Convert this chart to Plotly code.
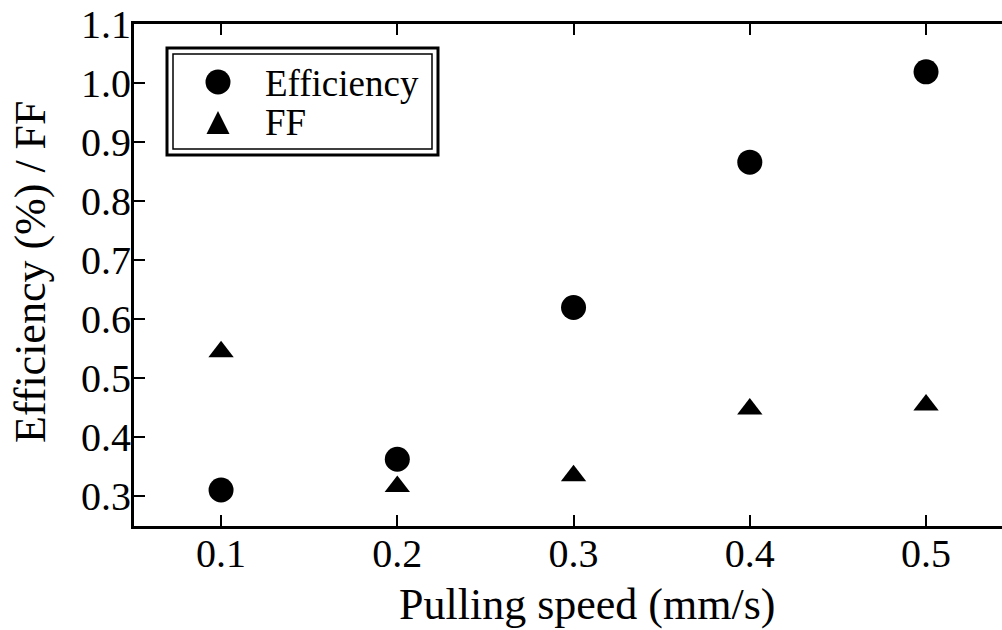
import plotly.graph_objects as go

# Pulling speed (mm/s)
speed = [0.1, 0.2, 0.3, 0.4, 0.5]
# Measured cell efficiency (%) and fill factor
efficiency = [0.311, 0.363, 0.620, 0.866, 1.019]
fill_factor = [0.545, 0.317, 0.335, 0.448, 0.455]

x_ticks = [0.1, 0.2, 0.3, 0.4, 0.5]
y_ticks = [0.3, 0.4, 0.5, 0.6, 0.7, 0.8, 0.9, 1.0, 1.1]

SERIF = "Liberation Serif, Times New Roman, serif"

# plot-area geometry in pixels, used to place the legend box and titles
W, H = 1002, 630
L, T, B = 134, 24, 104
PW, PH = W - L, H - T - B


def px(x):
    return (x - L) / PW


def py(y):
    return (H - B - y) / PH


fig = go.Figure()
fig.add_trace(go.Scatter(
    x=speed, y=efficiency, mode="markers", name="Efficiency",
    marker=dict(symbol="circle", size=25, color="black"),
))
fig.add_trace(go.Scatter(
    x=speed, y=fill_factor, mode="markers", name="FF",
    marker=dict(symbol="triangle-up", size=22, color="black"),
))
# invisible trace to carry the top axis with inward ticks
fig.add_trace(go.Scatter(
    x=speed, y=efficiency, xaxis="x2", mode="markers",
    marker=dict(opacity=0), showlegend=False, hoverinfo="skip",
))

axis_common = dict(
    showgrid=False, zeroline=False, showline=True,
    linecolor="black", linewidth=3,
    ticks="inside", ticklen=11, tickwidth=2, tickcolor="black",
)

# legend: double frame, symbols and labels
legend_shapes = [
    dict(type="rect", xref="paper", yref="paper",
         x0=px(167), x1=px(438), y0=py(155), y1=py(48),
         line=dict(color="black", width=3), fillcolor="white", layer="below"),
    dict(type="rect", xref="paper", yref="paper",
         x0=px(173), x1=px(432), y0=py(149), y1=py(54),
         line=dict(color="black", width=1.5)),
    dict(type="circle", xref="paper", yref="paper",
         x0=px(205.5), x1=px(230.5), y0=py(94.5), y1=py(69.5),
         fillcolor="black", line=dict(color="black", width=0)),
    dict(type="path", xref="paper", yref="paper",
         path=f"M {px(206.5)} {py(134)} L {px(229.5)} {py(134)} "
              f"L {px(218)} {py(111)} Z",
         fillcolor="black", line=dict(color="black", width=0)),
]

text_common = dict(xref="paper", yref="paper", showarrow=False)
annotations = [
    dict(text="Efficiency", x=px(263), y=py(83), xanchor="left",
         yanchor="middle", font=dict(size=37, family=SERIF), **text_common),
    dict(text="FF", x=px(263), y=py(122), xanchor="left",
         yanchor="middle", font=dict(size=37, family=SERIF), **text_common),
    # axis titles
    dict(text="Pulling speed (mm/s)", x=px(587), y=py(604), xanchor="center",
         yanchor="middle", font=dict(size=44, family=SERIF), **text_common),
    dict(text="Efficiency (%) / FF", x=px(30), y=py(272), xanchor="center",
         yanchor="middle", textangle=-90, font=dict(size=44, family=SERIF),
         **text_common),
]

fig.update_layout(
    width=W, height=H,
    margin=dict(l=L, r=0, t=T, b=B),
    paper_bgcolor="white", plot_bgcolor="white",
    font=dict(family=SERIF, color="black"),
    xaxis=dict(
        range=[0.0506, 0.5431], tickvals=x_ticks, tickformat=".1f",
        tickfont=dict(size=40), ticklabelstandoff=-10,
        **axis_common,
    ),
    xaxis2=dict(
        overlaying="x", matches="x", side="top", tickvals=x_ticks,
        showticklabels=False, **axis_common,
    ),
    yaxis=dict(
        range=[0.25, 1.1], tickvals=y_ticks, tickformat=".1f",
        tickfont=dict(size=40), ticklabelstandoff=-8,
        **axis_common,
    ),
    showlegend=False,
    shapes=legend_shapes,
    annotations=annotations,
)

fig.write_html("out.html")
